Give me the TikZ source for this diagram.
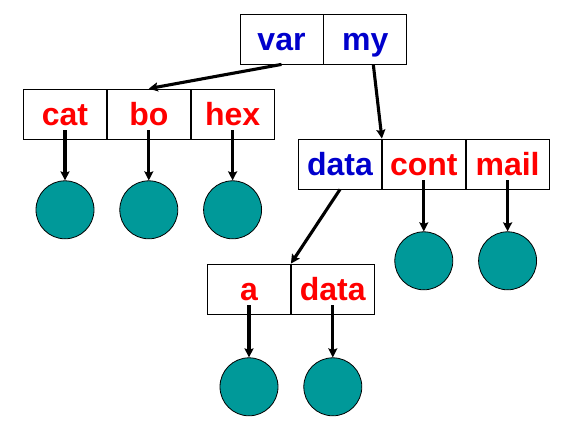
\documentclass[tikz,border=0pt]{standalone}
\usepackage{fontspec}
\setmainfont{Liberation Sans}
\usetikzlibrary{positioning, arrows.meta}
\definecolor{keyblue}{RGB}{0,0,204}
\definecolor{keyred}{RGB}{255,0,0}
\definecolor{objteal}{RGB}{0,153,153}
\tikzstyle{cell} = [rectangle, draw=black, line width=0.8pt, minimum width=83pt,
minimum height=50pt, inner sep=0pt, text height=24pt, text depth=2pt, text centered,
font=\fontsize{32}{32}\selectfont\bfseries]
\tikzstyle{bluecell} = [cell, text=keyblue]
\tikzstyle{redcell} = [cell, text=keyred]
\tikzstyle{obj} = [circle, draw=black, line width=0.8pt, fill=objteal, minimum size=58pt, inner sep=0pt]
\tikzstyle{arrow} = [line width=3.1pt,->,>={Stealth[length=9pt,width=9pt,inset=1.5pt]}]

\begin{document}
\begin{tikzpicture}[x=1pt, y=-1pt, node distance=42pt]
\useasboundingbox (0,0) rectangle (573,426);

% top record
\node(var)[bluecell] at (281.5,39){var};
\node(my)[bluecell, right=0pt of var]{my};

% left record
\node(cat)[redcell] at (65,114){cat};
\node(bo)[redcell, right=0pt of cat]{bo};
\node(hex)[redcell, right=0pt of bo]{hex};

% right record
\node(data)[bluecell] at (340,164){data};
\node(cont)[redcell, right=0pt of data]{cont};
\node(mail)[redcell, right=0pt of cont]{mail};

% bottom record
\node(a)[redcell] at (249,289){a};
\node(data2)[redcell, right=0pt of a]{data};

% objects
\node(ocat)[obj, below=41pt of cat]{};
\node(obo)[obj, below=41pt of bo]{};
\node(ohex)[obj, below=41pt of hex]{};
\node(ocont)[obj, below=42pt of cont]{};
\node(omail)[obj, below=42pt of mail]{};
\node(oa)[obj, below=43pt of a]{};
\node(odata)[obj, below=43pt of data2]{};

\draw[arrow](var.south) -- (bo.north);
\draw[arrow]([xshift=8pt]my.south) -- (data.north east);
\draw[arrow](data.south) -- (a.north east);

\draw[arrow]([yshift=-16pt]cat.center) -- (ocat);
\draw[arrow]([yshift=-16pt]bo.center) -- (obo);
\draw[arrow]([yshift=-16pt]hex.center) -- (ohex);
\draw[arrow]([yshift=-16pt]cont.center) -- (ocont);
\draw[arrow]([yshift=-16pt]mail.center) -- (omail);
\draw[arrow]([yshift=-16pt]a.center) -- (oa);
\draw[arrow]([yshift=-16pt]data2.center) -- (odata);

\end{tikzpicture}
\end{document}
